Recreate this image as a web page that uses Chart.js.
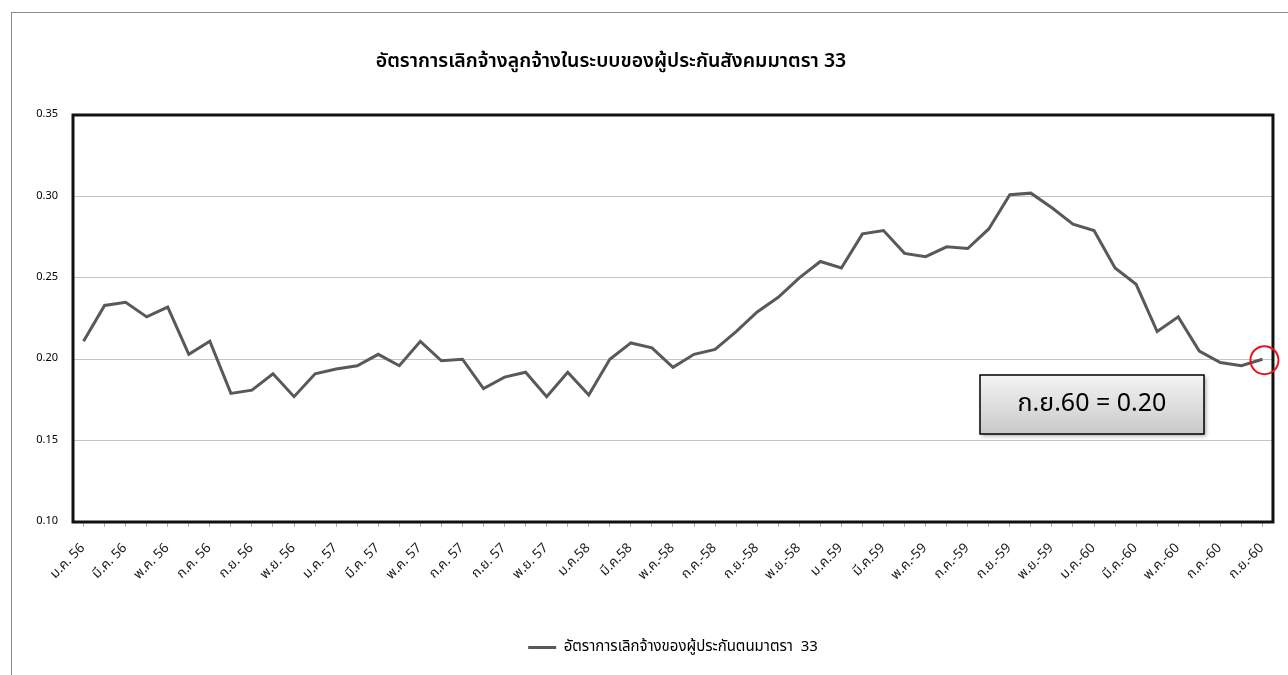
<!DOCTYPE html>
<html lang="th">
<head>
  <meta charset="UTF-8">
  <title>อัตราการเลิกจ้าง</title>
  <script src="https://cdn.jsdelivr.net/npm/chart.js"></script>
  <style>
    body { margin: 0; width: 1288px; height: 675px; overflow: hidden; background: #fff; font-family: "Noto Sans Thai", "Noto Sans", sans-serif; }
    #frame { position: absolute; left: 11px; top: 12px; width: 1400px; height: 700px; border-left: 1px solid #8a8a8a; border-top: 1px solid #8a8a8a; }
    #wrap { position: absolute; left: 0; top: 0; width: 1288px; height: 675px; }
  </style>
</head>
<body>
  <div id="frame"></div>
  <div id="wrap"><canvas id="rateChart" width="1288" height="675"></canvas></div>

  <script>
    // month labels ม.ค. 56 - ก.ย. 60
    const months = [
      'ม.ค. 56','ก.พ. 56','มี.ค. 56','เม.ย. 56','พ.ค. 56','มิ.ย. 56','ก.ค. 56','ส.ค. 56','ก.ย. 56','ต.ค. 56','พ.ย. 56','ธ.ค. 56',
      'ม.ค. 57','ก.พ. 57','มี.ค. 57','เม.ย. 57','พ.ค. 57','มิ.ย. 57','ก.ค. 57','ส.ค. 57','ก.ย. 57','ต.ค. 57','พ.ย. 57','ธ.ค. 57',
      'ม.ค.58','ก.พ.58','มี.ค.58','เม.ย.-58','พ.ค.-58','มิ.ย.-58','ก.ค.-58','ส.ค.-58','ก.ย.-58','ต.ค.-58','พ.ย.-58','ธ.ค.-58',
      'ม.ค.59','ก.พ.59','มี.ค.59','เม.ย.-59','พ.ค.-59','มิ.ย.-59','ก.ค.-59','ส.ค.-59','ก.ย.-59','ต.ค.-59','พ.ย.-59','ธ.ค.-59',
      'ม.ค.-60','ก.พ.-60','มี.ค.-60','เม.ย.-60','พ.ค.-60','มิ.ย.-60','ก.ค.-60','ส.ค.-60','ก.ย.-60'
    ];

    // termination rate, insured persons art. 33
    const rates = [
      0.211, 0.233, 0.235, 0.226, 0.232, 0.203, 0.211, 0.179, 0.181, 0.191, 0.177, 0.191,
      0.194, 0.196, 0.203, 0.196, 0.211, 0.199, 0.200, 0.182, 0.189, 0.192, 0.177, 0.192,
      0.178, 0.200, 0.210, 0.207, 0.195, 0.203, 0.206, 0.217, 0.229, 0.238, 0.250, 0.260,
      0.256, 0.277, 0.279, 0.265, 0.263, 0.269, 0.268, 0.280, 0.301, 0.302, 0.293, 0.283,
      0.279, 0.256, 0.246, 0.217, 0.226, 0.205, 0.198, 0.196, 0.200
    ];

    const yTicks = [0.10, 0.15, 0.20, 0.25, 0.30, 0.35];

    const chartTitle = 'อัตราการเลิกจ้างลูกจ้างในระบบของผู้ประกันสังคมมาตรา 33';
    const seriesName = 'อัตราการเลิกจ้างของผู้ประกันตนมาตรา  33';
    const noteText = 'ก.ย.60 = 0.20';

    const thaiFont = '"Noto Sans Thai", "Noto Sans", sans-serif';

    // frame, title, callout box and red ring on the last point
    const extras = {
      id: 'extras',
      afterDraw(chart) {
        const { ctx, chartArea: a, scales } = chart;
        ctx.save();
        ctx.strokeStyle = '#111';
        ctx.lineWidth = 3;
        ctx.strokeRect(a.left, a.top, a.right - a.left, a.bottom - a.top);

        ctx.fillStyle = '#000';
        ctx.font = '600 19.5px ' + thaiFont;
        ctx.textAlign = 'center';
        ctx.textBaseline = 'middle';
        ctx.fillText(chartTitle, 611, 63);

        // callout
        const bx = 980, by = 375, bw = 224, bh = 59;
        ctx.shadowColor = 'rgba(0,0,0,0.35)';
        ctx.shadowBlur = 4;
        ctx.shadowOffsetX = 2;
        ctx.shadowOffsetY = 2;
        const g = ctx.createLinearGradient(0, by, 0, by + bh);
        g.addColorStop(0, '#f4f4f4');
        g.addColorStop(1, '#c9c9c9');
        ctx.fillStyle = g;
        ctx.fillRect(bx, by, bw, bh);
        ctx.shadowColor = 'transparent';
        ctx.strokeStyle = '#000';
        ctx.lineWidth = 1.5;
        ctx.strokeRect(bx, by, bw, bh);
        ctx.fillStyle = '#000';
        ctx.font = '25px ' + thaiFont;
        ctx.fillText(noteText, bx + bw / 2, by + bh / 2 + 1);

        // ring on last value
        const last = rates.length - 1;
        const px = scales.x.getPixelForValue(last);
        const py = scales.y.getPixelForValue(rates[last]);
        ctx.strokeStyle = '#e8141b';
        ctx.lineWidth = 2;
        ctx.beginPath();
        ctx.arc(px + 2, py + 1, 14, 0, Math.PI * 2);
        ctx.stroke();
        ctx.restore();
      }
    };

    const ctx = document.getElementById('rateChart').getContext('2d');
    new Chart(ctx, {
      type: 'line',
      data: {
        labels: months,
        datasets: [{
          label: seriesName,
          data: rates,
          borderColor: '#595959',
          backgroundColor: '#595959',
          borderWidth: 3,
          pointRadius: 0,
          tension: 0
        }]
      },
      options: {
        responsive: false,
        animation: false,
        layout: { padding: { top: 115, right: 12, left: 0, bottom: 10 } },
        plugins: {
          title: { display: false },
          tooltip: { enabled: false },
          legend: {
            position: 'bottom',
            fullSize: false,
            labels: {
              usePointStyle: true,
              pointStyle: 'line',
              pointStyleWidth: 28,
              boxHeight: 3,
              padding: 8,
              color: '#000',
              font: { family: thaiFont, size: 15 }
            }
          }
        },
        scales: {
          x: {
            offset: true,
            afterFit(scale) { scale.height = 110; },
            grid: { drawOnChartArea: false, drawTicks: true, tickLength: 5, color: '#b0b0b0', offset: false },
            border: { display: false },
            ticks: {
              autoSkip: false,
              maxRotation: 45,
              minRotation: 45,
              padding: 14,
              color: '#222',
              font: { family: thaiFont, size: 13.5 },
              callback: (v, i) => (i % 2 === 0 ? months[i] : '')
            }
          },
          y: {
            min: 0.10,
            max: 0.35,
            afterFit(scale) { scale.width = 73; },
            afterBuildTicks(scale) { scale.ticks = yTicks.map(v => ({ value: v })); },
            grid: { color: '#c4c4c4', lineWidth: 1, drawTicks: false },
            border: { display: false },
            ticks: {
              padding: 15,
              color: '#000',
              font: { family: thaiFont, size: 11 },
              callback: v => v.toFixed(2)
            }
          }
        }
      },
      plugins: [extras]
    });
  </script>
</body>
</html>
